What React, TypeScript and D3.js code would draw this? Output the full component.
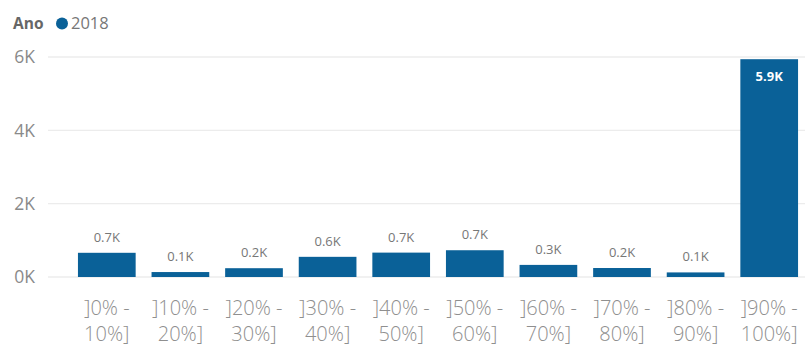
import React from "react";
import * as d3 from "d3";

const categories: string[][] = [
  ["]0% -", "10%]"],
  ["]10% -", "20%]"],
  ["]20% -", "30%]"],
  ["]30% -", "40%]"],
  ["]40% -", "50%]"],
  ["]50% -", "60%]"],
  ["]60% -", "70%]"],
  ["]70% -", "80%]"],
  ["]80% -", "90%]"],
  ["]90% -", "100%]"],
];
const values: number[] = [660, 135, 240, 550, 665, 730, 330, 245, 125, 5940];
const yTicks: number[] = [0, 2000, 4000, 6000];
const seriesName = "2018";
const legendTitle = "Ano";

const W = 805;
const H = 347;
const FONT = "'Segoe UI', 'Open Sans', 'DejaVu Sans', sans-serif";
const BAR = "#0a6198";

export default function App() {
  const x = d3
    .scaleBand<number>()
    .domain(d3.range(categories.length))
    .range([70, 806])
    .paddingInner(0.216)
    .paddingOuter(0.108);
  const y = d3.scaleLinear().domain([0, 6000]).range([277, 57]);
  const fmt = (v: number) => (v / 1000).toFixed(1) + "K";

  return (
    <svg
      width={W}
      height={H}
      style={{ position: "absolute", left: 0, top: 0, background: "#fff" }}
      fontFamily={FONT}
    >
      {/* legend */}
      <text x={13} y={29} fontSize={15.5} fontWeight="bold" fill="#666">
        {legendTitle}
      </text>
      <circle cx={62} cy={23.5} r={6} fill={BAR} />
      <text x={71} y={29} fontSize={16.5} fill="#777">
        {seriesName}
      </text>

      {/* gridlines & y labels */}
      {yTicks.map((t) => (
        <g key={t}>
          <line x1={48} x2={W} y1={y(t)} y2={y(t)} stroke="#ececec" strokeWidth={1.3} />
          <text
            x={35}
            y={y(t)}
            dy="0.36em"
            textAnchor="end"
            fontSize={17.5}
            fill="#8a8a8a"
          >
            {t / 1000 + "K"}
          </text>
        </g>
      ))}

      {/* bars */}
      {values.map((v, i) => {
        const bx = x(i)!;
        const bw = x.bandwidth();
        const top = y(v);
        const inside = v > 3000;
        return (
          <g key={i}>
            <rect x={bx} y={top} width={bw} height={y(0) - top} fill={BAR} />
            <text
              x={bx + bw / 2}
              y={inside ? top + 22 : top - 11}
              textAnchor="middle"
              fontSize={13}
              fontWeight={inside ? "bold" : "normal"}
              fill={inside ? "#fff" : "#777"}
            >
              {fmt(v)}
            </text>
          </g>
        );
      })}

      {/* x labels */}
      {categories.map((c, i) => (
        <text
          key={i}
          x={x(i)! + x.bandwidth() / 2}
          y={315}
          textAnchor="middle"
          fontSize={20}
          fontWeight={300}
          fill="#8f8f8f"
        >
          <tspan x={x(i)! + x.bandwidth() / 2}>{c[0]}</tspan>
          <tspan x={x(i)! + x.bandwidth() / 2} dy={26}>
            {c[1]}
          </tspan>
        </text>
      ))}
    </svg>
  );
}
